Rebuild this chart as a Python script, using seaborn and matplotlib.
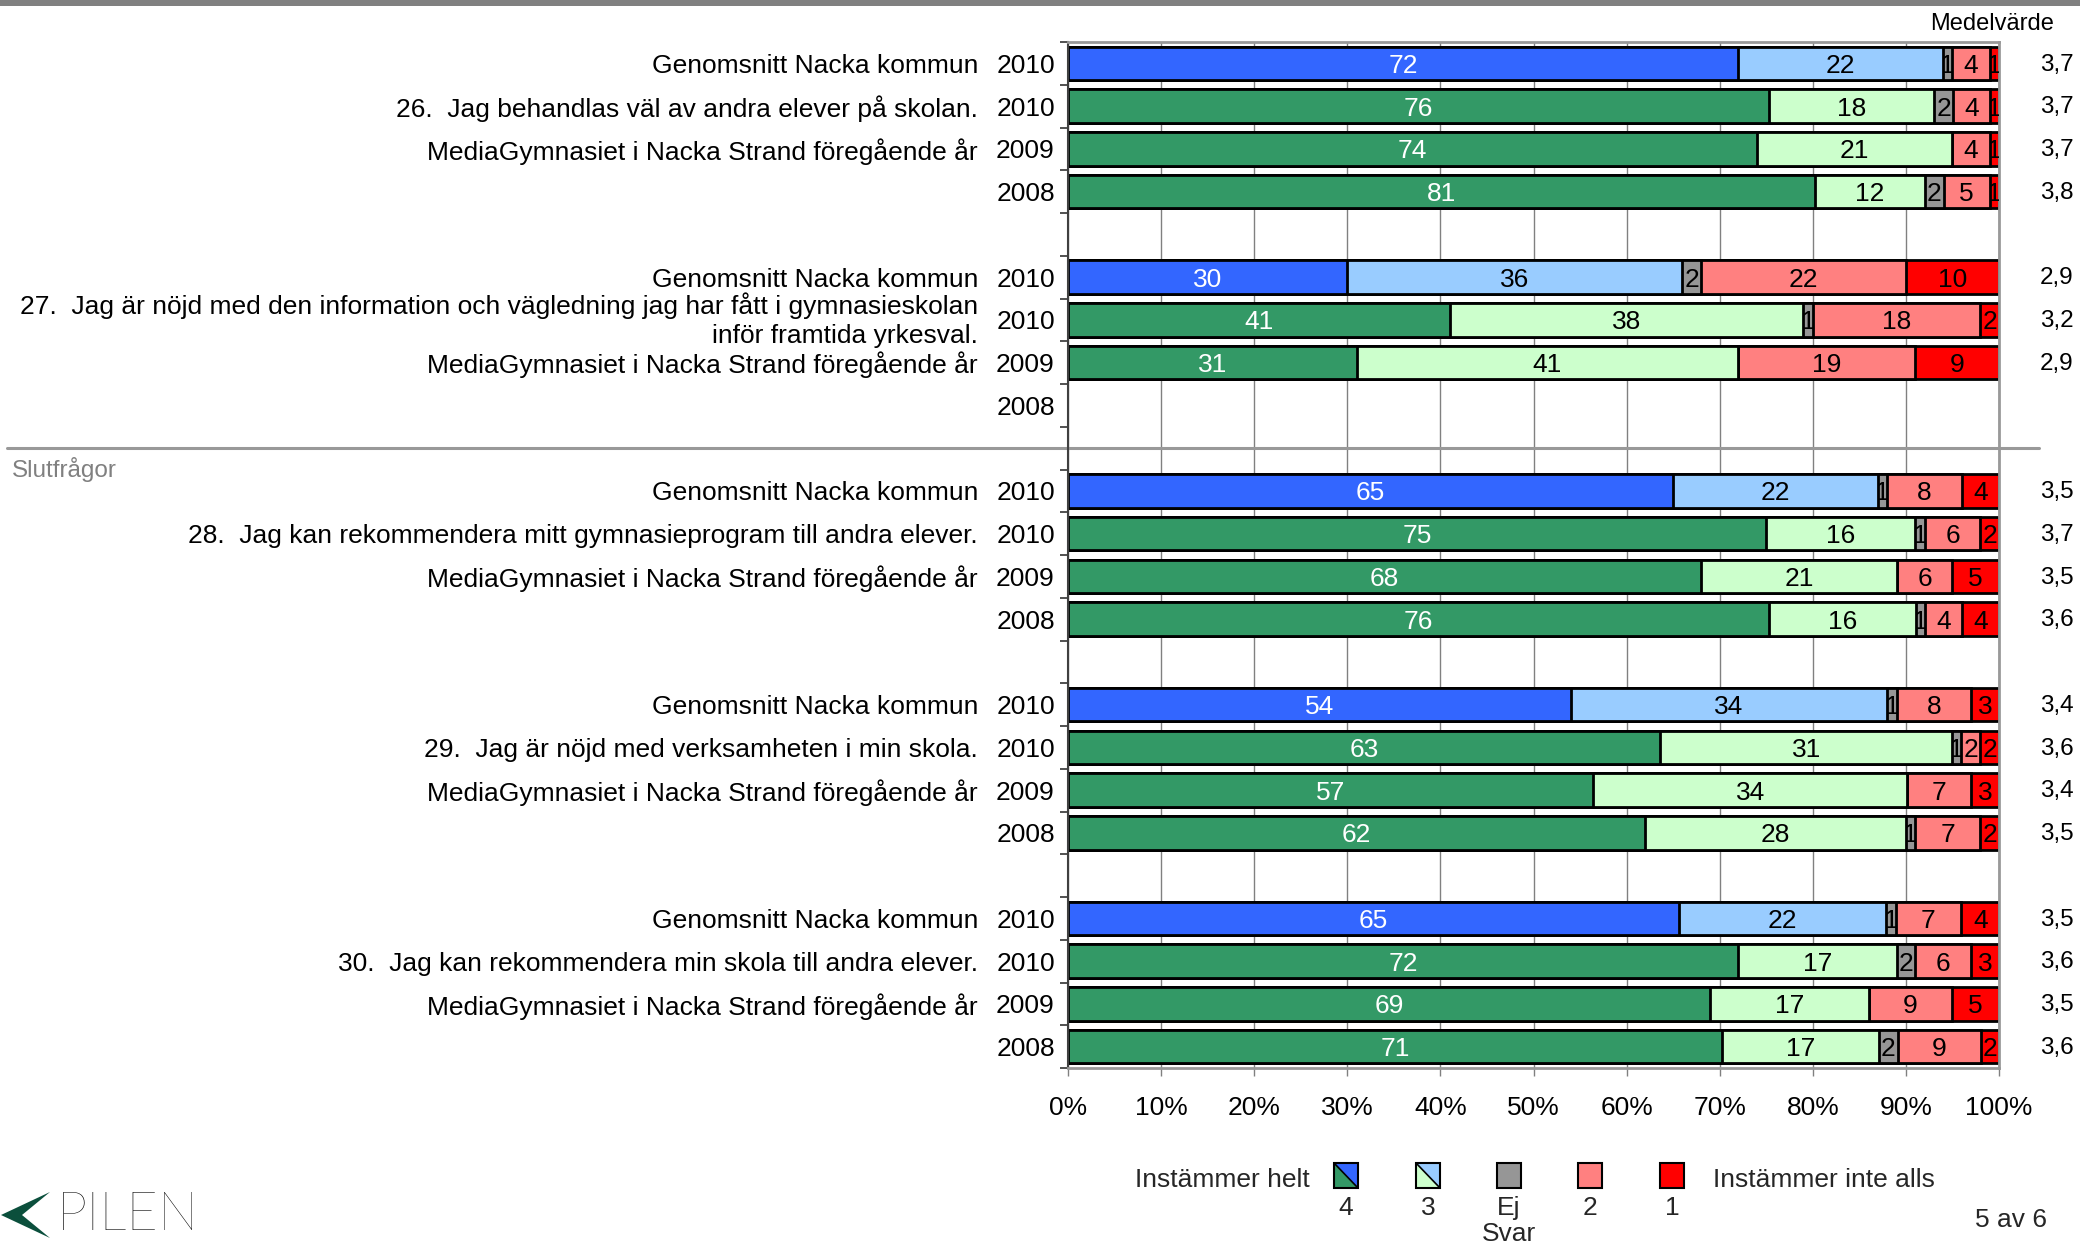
import numpy as np
import pandas as pd
import matplotlib
matplotlib.use("Agg")
import matplotlib.pyplot as plt
import seaborn as sns
from matplotlib import transforms
from matplotlib.patches import Polygon, Rectangle
from matplotlib.transforms import Bbox, TransformedBbox

# ---------------- data ----------------
levels = ["4", "3", "Ej svar", "2", "1"]
questions = [
    "26.  Jag behandlas väl av andra elever på skolan.",
    "27.  Jag är nöjd med den information och vägledning jag har fått i gymnasieskolan\ninför framtida yrkesval.",
    "28.  Jag kan rekommendera mitt gymnasieprogram till andra elever.",
    "29.  Jag är nöjd med verksamheten i min skola.",
    "30.  Jag kan rekommendera min skola till andra elever.",
]
row_texts = ["Genomsnitt Nacka kommun", None, "MediaGymnasiet i Nacka Strand föregående år", ""]
row_years = ["2010", "2010", "2009", "2008"]
row_kinds = ["nacka", "school", "school", "school"]

nan = np.nan
val_4 = [72, 76, 74, 81, 30, 41, 31, nan, 65, 75, 68, 76, 54, 63, 57, 62, 65, 72, 69, 71]
val_3 = [22, 18, 21, 12, 36, 38, 41, nan, 22, 16, 21, 16, 34, 31, 34, 28, 22, 17, 17, 17]
val_ej = [1, 2, 0, 2, 2, 1, 0, nan, 1, 1, 0, 1, 1, 1, 0, 1, 1, 2, 0, 2]
val_2 = [4, 4, 4, 5, 22, 18, 19, nan, 8, 6, 6, 4, 8, 2, 7, 7, 7, 6, 9, 9]
val_1 = [1, 1, 1, 1, 10, 2, 9, nan, 4, 2, 5, 4, 3, 2, 3, 2, 4, 3, 5, 2]
means = ["3,7", "3,7", "3,7", "3,8", "2,9", "3,2", "2,9", "",
         "3,5", "3,7", "3,5", "3,6", "3,4", "3,6", "3,4", "3,5",
         "3,5", "3,6", "3,5", "3,6"]

col_nacka = ["#3366FF", "#99CCFF", "#969696", "#FF8080", "#FF0000"]
col_school = ["#339966", "#CCFFCC", "#969696", "#FF8080", "#FF0000"]

# ---------------- frame ----------------
n_groups = len(questions)
n_slots = n_groups * 5 - 1
order = [f"s{i}" for i in range(n_slots)]

recs = []
for g in range(n_groups):
    for r in range(4):
        i = g * 4 + r
        recs.append(dict(pos=g * 5 + r, slot=f"s{g*5+r}", kind=row_kinds[r],
                         year=row_years[r], mean=means[i],
                         v0=val_4[i], v1=val_3[i], v2=val_ej[i], v3=val_2[i], v4=val_1[i]))
allrows = pd.DataFrame(recs)
df = allrows.dropna(subset=["v0"]).reset_index(drop=True)
vals = df[["v0", "v1", "v2", "v3", "v4"]].to_numpy(float)
# 100 % stacked bars: shares of each row's total
shares = vals / vals.sum(axis=1, keepdims=True) * 100
cum = shares.cumsum(axis=1)

# ---------------- style ----------------
sns.set_theme(style="white")
plt.rcParams["font.family"] = ["Liberation Sans", "DejaVu Sans"]

W, H = 2080, 1246
fig = plt.figure(figsize=(W / 100, H / 100), dpi=100)
fx = lambda x: x / W
fy = lambda y: 1 - y / H
ax = fig.add_axes([fx(1068), fy(1068), (1999 - 1068) / W, (1068 - 42) / H])

for k in reversed(range(5)):
    d = df.assign(cum=cum[:, k])
    pal = {"nacka": col_nacka[k], "school": col_school[k]}
    sns.barplot(data=d, x="cum", y="slot", hue="kind", hue_order=["nacka", "school"],
                palette=pal, order=order, orient="h", dodge=False, width=0.78,
                saturation=1, edgecolor="black", linewidth=2, errorbar=None,
                legend=False, ax=ax)

ax.set_xlim(0, 100)
ax.set_ylim(n_slots - 0.5, -0.5)
ax.set_xlabel("")
ax.set_ylabel("")

# segment labels
for i, row in df.iterrows():
    y = row["pos"]
    for k in range(5):
        v = vals[i, k]
        if v <= 0:
            continue
        x0 = cum[i, k - 1] if k > 0 else 0.0
        x1 = cum[i, k]
        t = ax.text((x0 + x1) / 2, y, f"{int(v)}", ha="center", va="center_baseline",
                    fontsize=19, color="white" if k == 0 else "black", clip_on=True)
        t.set_clip_box(TransformedBbox(Bbox([[x0, y - 0.4], [x1, y + 0.4]]), ax.transData))

# axes decorations
ax.set_xticks(np.arange(0, 101, 10))
ax.set_xticklabels([f"{v}%" for v in range(0, 101, 10)])
ax.xaxis.grid(True, color="#808080", lw=1)
ax.yaxis.grid(False)
ax.set_axisbelow(True)
ax.set_yticks(allrows["pos"].tolist())
ax.set_yticklabels(allrows["year"].tolist())
ax.set_yticks(np.arange(-0.5, n_slots, 1), minor=True)
ax.tick_params(axis="y", which="major", length=0, pad=9.5, labelsize=19, labelcolor="black")
ax.tick_params(axis="y", which="minor", left=True, length=6, width=1.2, color="#333333", direction="out")
ax.tick_params(axis="x", which="major", bottom=True, length=6, width=1, color="#808080",
               pad=14, labelsize=19, labelcolor="black")
ax.spines["left"].set_color("#404040")
ax.spines["left"].set_linewidth(1.5)
for s in ["top", "right", "bottom"]:
    ax.spines[s].set_color("#999999")
    ax.spines[s].set_linewidth(2)
    ax.spines[s].set_visible(True)
ax.spines["left"].set_visible(True)

# row descriptions
tr = transforms.blended_transform_factory(fig.transFigure, ax.transData)
for _, row in allrows.iterrows():
    r = row["pos"] % 5
    g = row["pos"] // 5
    txt = questions[g] if row_texts[r] is None else row_texts[r]
    if txt:
        ax.text(fx(978), row["pos"], txt, transform=tr, ha="right",
                va="center_baseline" if "\n" not in txt else "center",
                multialignment="right", fontsize=19, linespacing=1.25, color="black")
    if row["mean"]:
        ax.text(fx(2057), row["pos"] - 0.03, row["mean"], transform=tr, ha="center",
                va="center_baseline", fontsize=17.5, color="black")

# separator line and section title
ax.plot([fx(7), fx(2039)], [9, 9], transform=tr, color="#999999", lw=2.2, clip_on=False)
ax.text(fx(12), 9.5, "Slutfrågor", transform=tr, ha="left", va="center", fontsize=17.5, color="#808080")
fig.text(fx(2054), fy(24), "Medelvärde", ha="right", va="center", fontsize=17, color="black")

# top band
fig.add_artist(Rectangle((0, fy(6)), 1, 6 / H, transform=fig.transFigure, color="#808080", lw=0))

# legend
fig.text(fx(1310), fy(1180), "Instämmer helt", ha="right", va="center", fontsize=19)
fig.text(fx(1713), fy(1180), "Instämmer inte alls", ha="left", va="center", fontsize=19)
leg_x = [1334, 1416, 1497, 1578, 1660]
leg_lab = ["4", "3", "Ej\nSvar", "2", "1"]
pw, ph, py0 = 24, 25, 1163
for k, x0 in enumerate(leg_x):
    x1, y0, y1 = x0 + pw, py0, py0 + ph
    if k < 2:
        fig.add_artist(Polygon([(fx(x0), fy(y0)), (fx(x0), fy(y1)), (fx(x1), fy(y1))],
                               closed=True, transform=fig.transFigure, facecolor=col_school[k], lw=0))
        fig.add_artist(Polygon([(fx(x0), fy(y0)), (fx(x1), fy(y0)), (fx(x1), fy(y1))],
                               closed=True, transform=fig.transFigure, facecolor=col_nacka[k], lw=0))
        fig.add_artist(plt.Line2D([fx(x0), fx(x1)], [fy(y0), fy(y1)], transform=fig.transFigure,
                                  color="black", lw=1.2))
        fig.add_artist(Rectangle((fx(x0), fy(y1)), pw / W, ph / H, transform=fig.transFigure,
                                 facecolor="none", edgecolor="black", lw=1.5))
    else:
        fig.add_artist(Rectangle((fx(x0), fy(y1)), pw / W, ph / H, transform=fig.transFigure,
                                 facecolor=col_nacka[k], edgecolor="black", lw=1.5))
    fig.text(fx(x0 + pw / 2), fy(1196), leg_lab[k], ha="center", va="top", fontsize=19,
             linespacing=1.1)

fig.text(fx(2047), fy(1220), "5 av 6", ha="right", va="center", fontsize=19)

# logo
fig.add_artist(Polygon([(fx(1), fy(1215)), (fx(50), fy(1192)), (fx(22), fy(1215)), (fx(50), fy(1238))],
                       closed=True, transform=fig.transFigure, facecolor="#0B4F3C", lw=0))
fig.text(fx(57), fy(1216), "PILEN", ha="left", va="center", fontsize=39,
         family=["Lato", "DejaVu Sans"], fontweight="light", color="black")

fig.savefig("out.png", dpi=100)
